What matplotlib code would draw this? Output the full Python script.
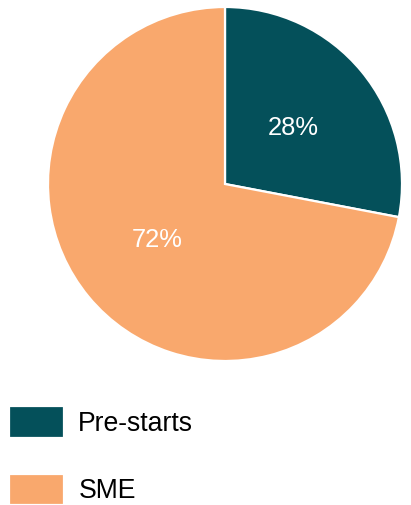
import matplotlib
matplotlib.use('Agg')
import matplotlib.pyplot as plt

labels = ['Pre-starts', 'SME']
shares = [28, 72]
colors = ['#04505A', '#F9A86D']

plt.rcParams['font.family'] = ['Liberation Sans', 'DejaVu Sans']

W, H = 411, 505
fig = plt.figure(figsize=(W / 100, H / 100), dpi=100)

# pie: centre (225, 184) px, radius 177 px
cx, cy, r = 225, 184, 177
ax = fig.add_axes([(cx - r) / W, (H - cy - r) / H, 2 * r / W, 2 * r / H])
wedges, texts, autotexts = ax.pie(
    shares, colors=colors, startangle=90, counterclock=False,
    autopct='%d%%', pctdistance=0.5,
    wedgeprops=dict(edgecolor='white', linewidth=1.6),
    textprops=dict(color='white', fontsize=18.4))
ax.set_xlim(-1, 1)
ax.set_ylim(-1, 1)
ax.set_aspect('equal')

fs = 19.2
fig.legend(wedges, labels, loc='upper left',
           bbox_to_anchor=(9 / W, 1 - 406 / H), frameon=False,
           fontsize=fs, handlelength=2.05, handleheight=1.45,
           handletextpad=0.55, labelspacing=1.35, borderpad=0, borderaxespad=0)

fig.savefig('out.png', dpi=100)
